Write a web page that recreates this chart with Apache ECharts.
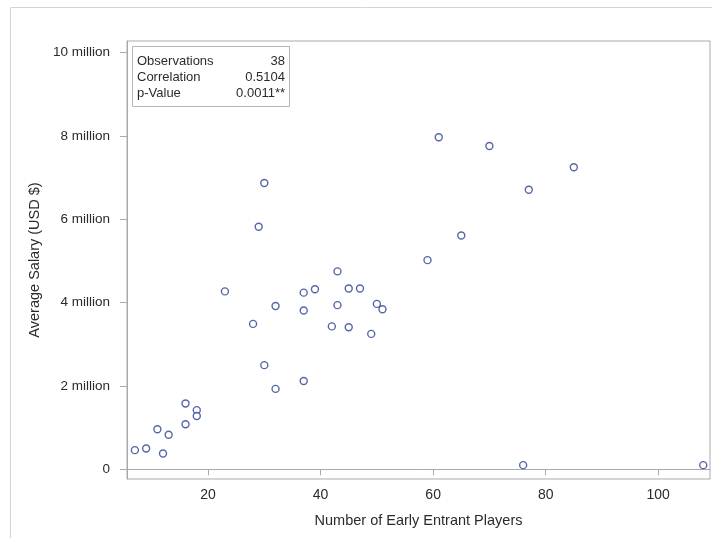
<!DOCTYPE html>
<html>
<head>
<meta charset="utf-8">
<script src="https://cdn.jsdelivr.net/npm/echarts@6/dist/echarts.min.js"></script>
<style>
  html, body { margin: 0; padding: 0; background: #fff; }
  #chart { width: 712px; height: 538px; }
</style>
</head>
<body>
<div id="chart"></div>
<script>
// Early entrant players per team vs. average salary (millions of USD)
const earlyEntrants = [30, 29, 43, 23, 37, 39, 45, 47, 32, 37, 43, 50, 51, 28, 42, 45, 49,
  30, 37, 32, 16, 18, 18, 16, 11, 13, 7, 9, 12, 76, 108, 61, 70, 85, 77, 65, 59];
const avgSalaryMillions = [6.87, 5.82, 4.75, 4.27, 4.24, 4.32, 4.34, 4.34, 3.92, 3.81, 3.94, 3.97, 3.84, 3.49, 3.43, 3.41, 3.25,
  2.50, 2.12, 1.93, 1.58, 1.42, 1.28, 1.08, 0.96, 0.83, 0.46, 0.50, 0.38, 0.10, 0.10, 7.97, 7.76, 7.25, 6.71, 5.61, 5.02];

const xTicks = [20, 40, 60, 80, 100];
const yTicks = [0, 2, 4, 6, 8, 10];

const statLabels = ['Observations', 'Correlation', 'p-Value'];
const statValues = ['38', '0.5104', '0.0011**'];

const points = earlyEntrants.map((x, i) => [x, avgSalaryMillions[i]]);

const FONT = '"Liberation Sans", Arial, sans-serif';
const TEXT = '#2b2b2b';
const FRAME = '#a9a9a9';

const chart = echarts.init(document.getElementById('chart'), null, { renderer: 'canvas' });

const statsGraphics = [];
statLabels.forEach((lab, i) => {
  const y = 61 + i * 16.3;
  statsGraphics.push({
    type: 'text', x: 137, y: y,
    style: { text: lab, font: '13px ' + FONT, fill: TEXT, align: 'left', verticalAlign: 'middle' }
  });
  statsGraphics.push({
    type: 'text', x: 285, y: y,
    style: { text: statValues[i], font: '13px ' + FONT, fill: TEXT, align: 'right', verticalAlign: 'middle' }
  });
});

chart.setOption({
  animation: false,
  backgroundColor: '#ffffff',
  grid: {
    left: 127, right: 2, top: 41, bottom: 59,
    show: true, borderColor: FRAME, borderWidth: 1, backgroundColor: 'transparent'
  },
  xAxis: {
    type: 'value',
    min: 5.6, max: 109.2,
    name: 'Number of Early Entrant Players',
    nameLocation: 'middle', nameGap: 34,
    nameTextStyle: { fontFamily: FONT, fontSize: 14.5, color: TEXT },
    axisLine: { show: true, lineStyle: { color: FRAME, width: 1 } },
    axisTick: { show: true, inside: false, length: 6, lineStyle: { color: FRAME }, customValues: xTicks },
    axisLabel: { fontFamily: FONT, fontSize: 14, color: TEXT, margin: 9, customValues: xTicks },
    splitLine: { show: false }
  },
  yAxis: {
    type: 'value',
    min: -0.233, max: 10.28,
    name: 'Average Salary (USD $)',
    nameLocation: 'middle', nameGap: 85,
    nameTextStyle: { fontFamily: FONT, fontSize: 14.5, color: TEXT },
    axisLine: { show: true, lineStyle: { color: FRAME, width: 1 } },
    axisTick: { show: true, inside: false, length: 7, lineStyle: { color: FRAME }, customValues: yTicks },
    axisLabel: {
      fontFamily: FONT, fontSize: 13.5, color: TEXT, margin: 17, customValues: yTicks,
      formatter: v => (v === 0 ? '0' : v + ' million')
    },
    splitLine: { show: false }
  },
  series: [{
    type: 'scatter',
    data: points,
    symbol: 'circle',
    symbolSize: 7,
    itemStyle: { color: '#ffffff', borderColor: '#2c3f92', borderWidth: 1.4 },
    emphasis: { disabled: true }
  }],
  graphic: [
    // outer frame of the figure
    { type: 'rect', shape: { x: 10.5, y: 7.5, width: 720, height: 540 },
      style: { fill: 'none', stroke: '#d4d4d4', lineWidth: 1 }, silent: true },
    // statistics inset box
    { type: 'rect', shape: { x: 132.5, y: 46.5, width: 157, height: 60 },
      style: { fill: '#ffffff', stroke: '#b5b5b5', lineWidth: 1 }, z: 10 },
    ...statsGraphics.map(g => Object.assign({ z: 11 }, g))
  ]
});
</script>
</body>
</html>
